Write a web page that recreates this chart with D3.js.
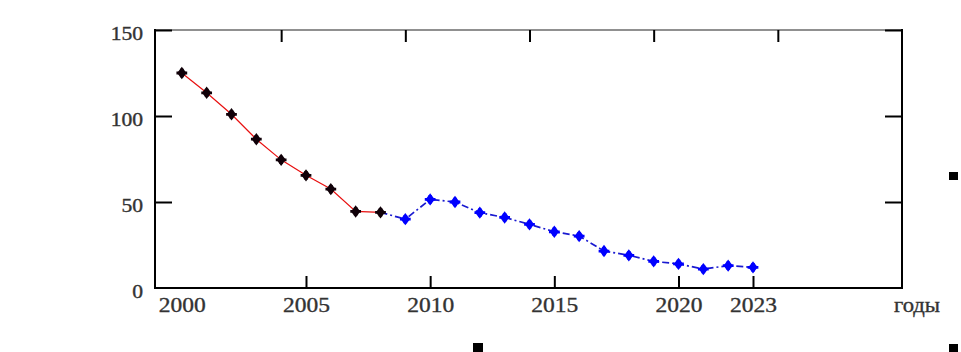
<!DOCTYPE html>
<html>
<head>
<meta charset="utf-8">
<script src="https://cdn.jsdelivr.net/npm/d3@7"></script>
<style>
  body { margin: 0; background: #fff; }
  svg { display: block; }
</style>
</head>
<body>
<div id="chart"></div>
<script>
// years and values
var yearsActual = [2000, 2001, 2002, 2003, 2004, 2005, 2006, 2007, 2008];
var valuesActual = [125, 113.5, 101, 86.5, 74.5, 65.5, 57.5, 44.5, 44];

var yearsForecast = [2008, 2009, 2010, 2011, 2012, 2013, 2014, 2015, 2016,
                     2017, 2018, 2019, 2020, 2021, 2022, 2023];
var valuesForecast = [44, 40, 51.5, 50, 43.8, 41, 37, 32.7, 30.2,
                      21.5, 19, 15.5, 14, 11, 13, 12];

// axis stuff
var xLabels = [2000, 2005, 2010, 2015, 2020, 2023];
var xBottomTicks = [2005, 2010, 2015, 2020, 2023];
var xTopTicks = [2004, 2009, 2014, 2019, 2024];
var yTicks = [0, 50, 100, 150];
var xTitle = "годы";

window.onload = function(){

  var W = 961, H = 352;
  var left = 155, right = 902, top = 30, bottom = 288;

  var svg = d3.select("#chart").append("svg")
    .attr("width", W)
    .attr("height", H);

  var x = d3.scaleLinear().domain([1998.92, 2029]).range([left, right]);
  var y = d3.scaleLinear().domain([0, 150]).range([bottom, top]);

  var font = "'Liberation Serif', 'Times New Roman', serif";

  // frame
  svg.append("line").attr("x1", left).attr("x2", right).attr("y1", top).attr("y2", top)
    .attr("stroke", "#222").attr("stroke-width", 1.2);
  svg.append("line").attr("x1", left).attr("x2", left).attr("y1", top - 1).attr("y2", bottom + 1)
    .attr("stroke", "#000").attr("stroke-width", 2);
  svg.append("line").attr("x1", right).attr("x2", right).attr("y1", top - 1).attr("y2", bottom + 1)
    .attr("stroke", "#000").attr("stroke-width", 2);
  svg.append("line").attr("x1", left - 1).attr("x2", right + 1).attr("y1", bottom).attr("y2", bottom)
    .attr("stroke", "#000").attr("stroke-width", 2);

  // bottom labels (no tick marks)
  var xLab = svg.append("g")
    .attr("transform", "translate(0," + bottom + ")")
    .call(d3.axisBottom(x).tickValues(xLabels).tickSize(0).tickFormat(d3.format("d")));
  xLab.select(".domain").remove();
  xLab.selectAll("text")
    .attr("y", 24).attr("dy", 0)
    .attr("transform", "scale(1.12,1)")
    .style("font-family", font).style("font-size", "21px").style("fill", "#333")
    .style("stroke", "#333").style("stroke-width", 0.35);

  // bottom inner ticks
  var xb = svg.append("g")
    .attr("transform", "translate(0," + bottom + ")")
    .call(d3.axisBottom(x).tickValues(xBottomTicks).tickSize(-12).tickFormat(""));
  xb.select(".domain").remove();
  xb.selectAll("line").attr("stroke", "#000").attr("stroke-width", 2);

  // top inner ticks
  var xt = svg.append("g")
    .attr("transform", "translate(0," + top + ")")
    .call(d3.axisTop(x).tickValues(xTopTicks).tickSize(-12).tickFormat(""));
  xt.select(".domain").remove();
  xt.selectAll("line").attr("stroke", "#000").attr("stroke-width", 2);

  // left axis, ticks pointing inward
  var yl = svg.append("g")
    .attr("transform", "translate(" + left + ",0)")
    .call(d3.axisLeft(y).tickValues(yTicks).tickSizeInner(-17).tickSizeOuter(0)
      .tickFormat(d3.format("d")));
  yl.select(".domain").remove();
  yl.selectAll("line")
    .attr("stroke", "#000").attr("stroke-width", 2)
    .style("opacity", function(d){ return d === 0 ? 0 : 1; });
  yl.selectAll("text")
    .attr("x", -12 / 1.2).attr("dy", 9.5)
    .attr("transform", "scale(1.2,1)")
    .style("font-family", font).style("font-size", "18px").style("fill", "#333")
    .style("stroke", "#333").style("stroke-width", 0.35)
    .attr("text-anchor", "end");

  // right ticks
  var yr = svg.append("g")
    .attr("transform", "translate(" + right + ",0)")
    .call(d3.axisRight(y).tickValues([50, 100, 150]).tickSizeInner(-17).tickSizeOuter(0).tickFormat(""));
  yr.select(".domain").remove();
  yr.selectAll("line").attr("stroke", "#000").attr("stroke-width", 2);

  // x title
  svg.append("text")
    .attr("transform", "translate(917,312) scale(1.08,1)")
    .attr("text-anchor", "middle")
    .style("font-family", font).style("font-size", "21px").style("fill", "#333")
    .style("stroke", "#333").style("stroke-width", 0.35)
    .text(xTitle);

  var actual = yearsActual.map(function(d, i){ return [d, valuesActual[i]]; });
  var forecast = yearsForecast.map(function(d, i){ return [d, valuesForecast[i]]; });

  var line = d3.line()
    .x(function(d){ return x(d[0]); })
    .y(function(d){ return y(d[1]); });

  // forecast line (blue, dash-dot)
  svg.append("path")
    .datum(forecast)
    .attr("d", line)
    .attr("fill", "none")
    .attr("stroke", "#1a1ad0")
    .attr("stroke-width", 1.7)
    .attr("stroke-dasharray", "7,3,2,3");

  // actual line (red, solid)
  svg.append("path")
    .datum(actual)
    .attr("d", line)
    .attr("fill", "none")
    .attr("stroke", "#e81010")
    .attr("stroke-width", 1.2);

  var diamond = d3.symbol().type(d3.symbolDiamond).size(44);
  var cross = d3.symbol().type(d3.symbolCross).size(38);

  function markers(data, color){
    var g = svg.append("g").selectAll("g")
      .data(data)
      .enter().append("g")
      .attr("transform", function(d){ return "translate(" + x(d[0]) + "," + y(d[1]) + ") scale(1.3,1)"; });
    g.append("path").attr("d", diamond).attr("fill", color);
    g.append("path").attr("d", cross).attr("fill", color);
  }

  markers(forecast.slice(1), "#0000ff");
  markers(actual, "#100008");

  // stray black squares in the picture
  var squares = [[949, 172, 9, 8], [473, 343, 10, 9], [949, 344, 9, 8]];
  svg.selectAll("rect.sq")
    .data(squares)
    .enter().append("rect")
    .attr("class", "sq")
    .attr("x", function(d){ return d[0]; })
    .attr("y", function(d){ return d[1]; })
    .attr("width", function(d){ return d[2]; })
    .attr("height", function(d){ return d[3]; })
    .attr("fill", "#000");
};
</script>
</body>
</html>
